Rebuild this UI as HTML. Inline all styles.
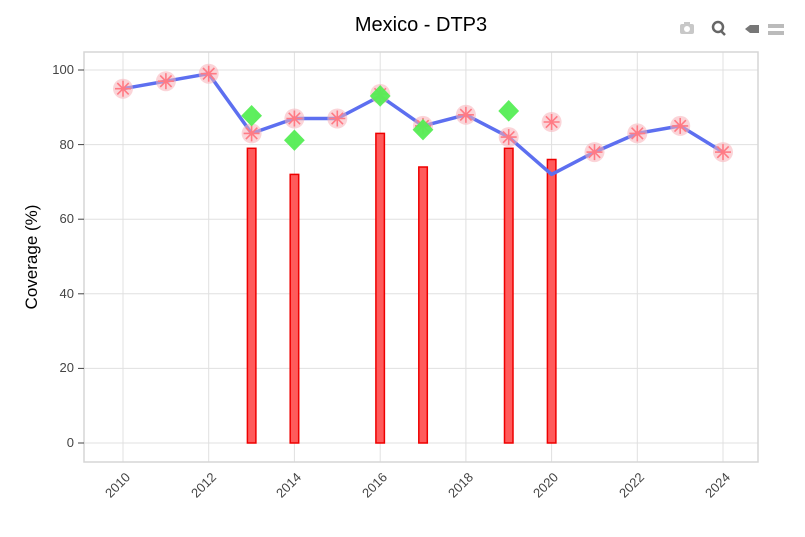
<!DOCTYPE html>
<html><head><meta charset="utf-8"><style>
html,body{margin:0;padding:0;background:#fff;}
svg{display:block;font-family:"Liberation Sans","DejaVu Sans",sans-serif;}
</style></head><body>
<svg width="805" height="537" viewBox="0 0 805 537" xmlns="http://www.w3.org/2000/svg">
<rect width="805" height="537" fill="#fff"/>
<text x="421" y="31" text-anchor="middle" font-size="20" fill="#000">Mexico - DTP3</text>
<g id="grid" stroke="#e0e0e0" stroke-width="1">
<line x1="84" x2="758" y1="443" y2="443"/><line x1="84" x2="758" y1="368.4" y2="368.4"/>
<line x1="84" x2="758" y1="293.8" y2="293.8"/><line x1="84" x2="758" y1="219.2" y2="219.2"/>
<line x1="84" x2="758" y1="144.6" y2="144.6"/><line x1="84" x2="758" y1="70" y2="70"/>
<line y1="52" y2="462" x1="123" x2="123"/><line y1="52" y2="462" x1="208.7" x2="208.7"/>
<line y1="52" y2="462" x1="294.4" x2="294.4"/><line y1="52" y2="462" x1="380.2" x2="380.2"/>
<line y1="52" y2="462" x1="465.9" x2="465.9"/><line y1="52" y2="462" x1="551.6" x2="551.6"/>
<line y1="52" y2="462" x1="637.3" x2="637.3"/><line y1="52" y2="462" x1="723" x2="723"/>
</g>
<rect x="84" y="52" width="674" height="410" fill="none" stroke="#d6d6d6" stroke-width="1.5"/>
<g font-size="13" fill="#444" text-anchor="end">
<text x="74" y="447">0</text><text x="74" y="372">20</text><text x="74" y="298">40</text>
<text x="74" y="223">60</text><text x="74" y="149">80</text><text x="74" y="74">100</text>
</g>
<g stroke="#444"><line x1="78" x2="84" y1="443" y2="443"/><line x1="78" x2="84" y1="368.4" y2="368.4"/><line x1="78" x2="84" y1="293.8" y2="293.8"/><line x1="78" x2="84" y1="219.2" y2="219.2"/><line x1="78" x2="84" y1="144.6" y2="144.6"/><line x1="78" x2="84" y1="70" y2="70"/></g>
<text transform="translate(37,257) rotate(-90)" text-anchor="middle" font-size="17" fill="#000">Coverage (%)</text>
<g font-size="13" fill="#444" text-anchor="end">
<text transform="translate(131,478) rotate(-45)">2010</text>
<text transform="translate(217,478) rotate(-45)">2012</text>
<text transform="translate(302,478) rotate(-45)">2014</text>
<text transform="translate(388,478) rotate(-45)">2016</text>
<text transform="translate(474,478) rotate(-45)">2018</text>
<text transform="translate(559,478) rotate(-45)">2020</text>
<text transform="translate(645,478) rotate(-45)">2022</text>
<text transform="translate(731,478) rotate(-45)">2024</text>
</g>
<g fill="#ff5b5b" stroke="#ee0000" stroke-width="1.5">
<rect x="247.4" y="148.3" width="8.5" height="294.7"/>
<rect x="290.2" y="174.4" width="8.5" height="268.6"/>
<rect x="375.9" y="133.4" width="8.5" height="309.6"/>
<rect x="418.8" y="167" width="8.5" height="276"/>
<rect x="504.5" y="148.3" width="8.5" height="294.7"/>
<rect x="547.4" y="159.5" width="8.5" height="283.5"/>
</g>
<polyline fill="none" stroke="#5d6ff0" stroke-width="3.5" stroke-linejoin="round" points="123,88.7 165.9,81.2 208.7,73.7 251.6,133.4 294.4,118.5 337.3,118.5 380.2,96.1 423,125.9 465.9,114.8 508.7,137.1 551.6,174.4 594.5,152.1 637.3,133.4 680.2,125.9 723,152.1"/>
<g id="stars">
<defs><g id="st"><circle r="10" fill="#f8b0b8" opacity="0.55"/><g stroke="#ff7a84" stroke-width="1.6"><line x1="-8" x2="8"/><line y1="-8" y2="8"/><line x1="-5.7" y1="-5.7" x2="5.7" y2="5.7"/><line x1="-5.7" y1="5.7" x2="5.7" y2="-5.7"/></g></g></defs>
<use href="#st" x="123" y="88.7"/><use href="#st" x="165.9" y="81.2"/><use href="#st" x="208.7" y="73.7"/>
<use href="#st" x="251.6" y="133.4"/><use href="#st" x="294.4" y="118.5"/><use href="#st" x="337.3" y="118.5"/>
<use href="#st" x="380.2" y="94"/><use href="#st" x="423" y="125.9"/><use href="#st" x="465.9" y="114.8"/>
<use href="#st" x="508.7" y="137.1"/><use href="#st" x="551.6" y="122"/><use href="#st" x="594.5" y="152.1"/>
<use href="#st" x="637.3" y="133.4"/><use href="#st" x="680.2" y="125.9"/><use href="#st" x="723" y="152.1"/>
</g>
<g fill="#55ee55" opacity="0.95">
<polygon points="251.6,105 262,115.7 251.6,126.4 241.2,115.7"/>
<polygon points="294.4,129.5 304.8,140.2 294.4,150.9 284,140.2"/>
<polygon points="380.2,85 390.6,96 380.2,106.7 369.8,96"/>
<polygon points="423,119 433.4,129.7 423,140.4 412.6,129.7"/>
<polygon points="508.7,100 519.1,111 508.7,121.6 498.3,111"/>
</g>
<g>
<rect x="680" y="24" width="14" height="10" rx="2" fill="#c8c8c8"/><circle cx="687" cy="29" r="3" fill="#fff"/><rect x="684" y="22" width="6" height="3" fill="#c8c8c8"/>
<circle cx="718" cy="27" r="5" fill="none" stroke="#666" stroke-width="2.5"/><line x1="721" y1="31" x2="725" y2="35" stroke="#666" stroke-width="2.5"/>
<polygon points="745,29 750,25 759,25 759,33 750,33" fill="#777"/>
<rect x="768" y="24" width="16" height="4" fill="#bbb"/><rect x="768" y="31" width="16" height="4" fill="#bbb"/>
</g>
</svg>
</body></html>
